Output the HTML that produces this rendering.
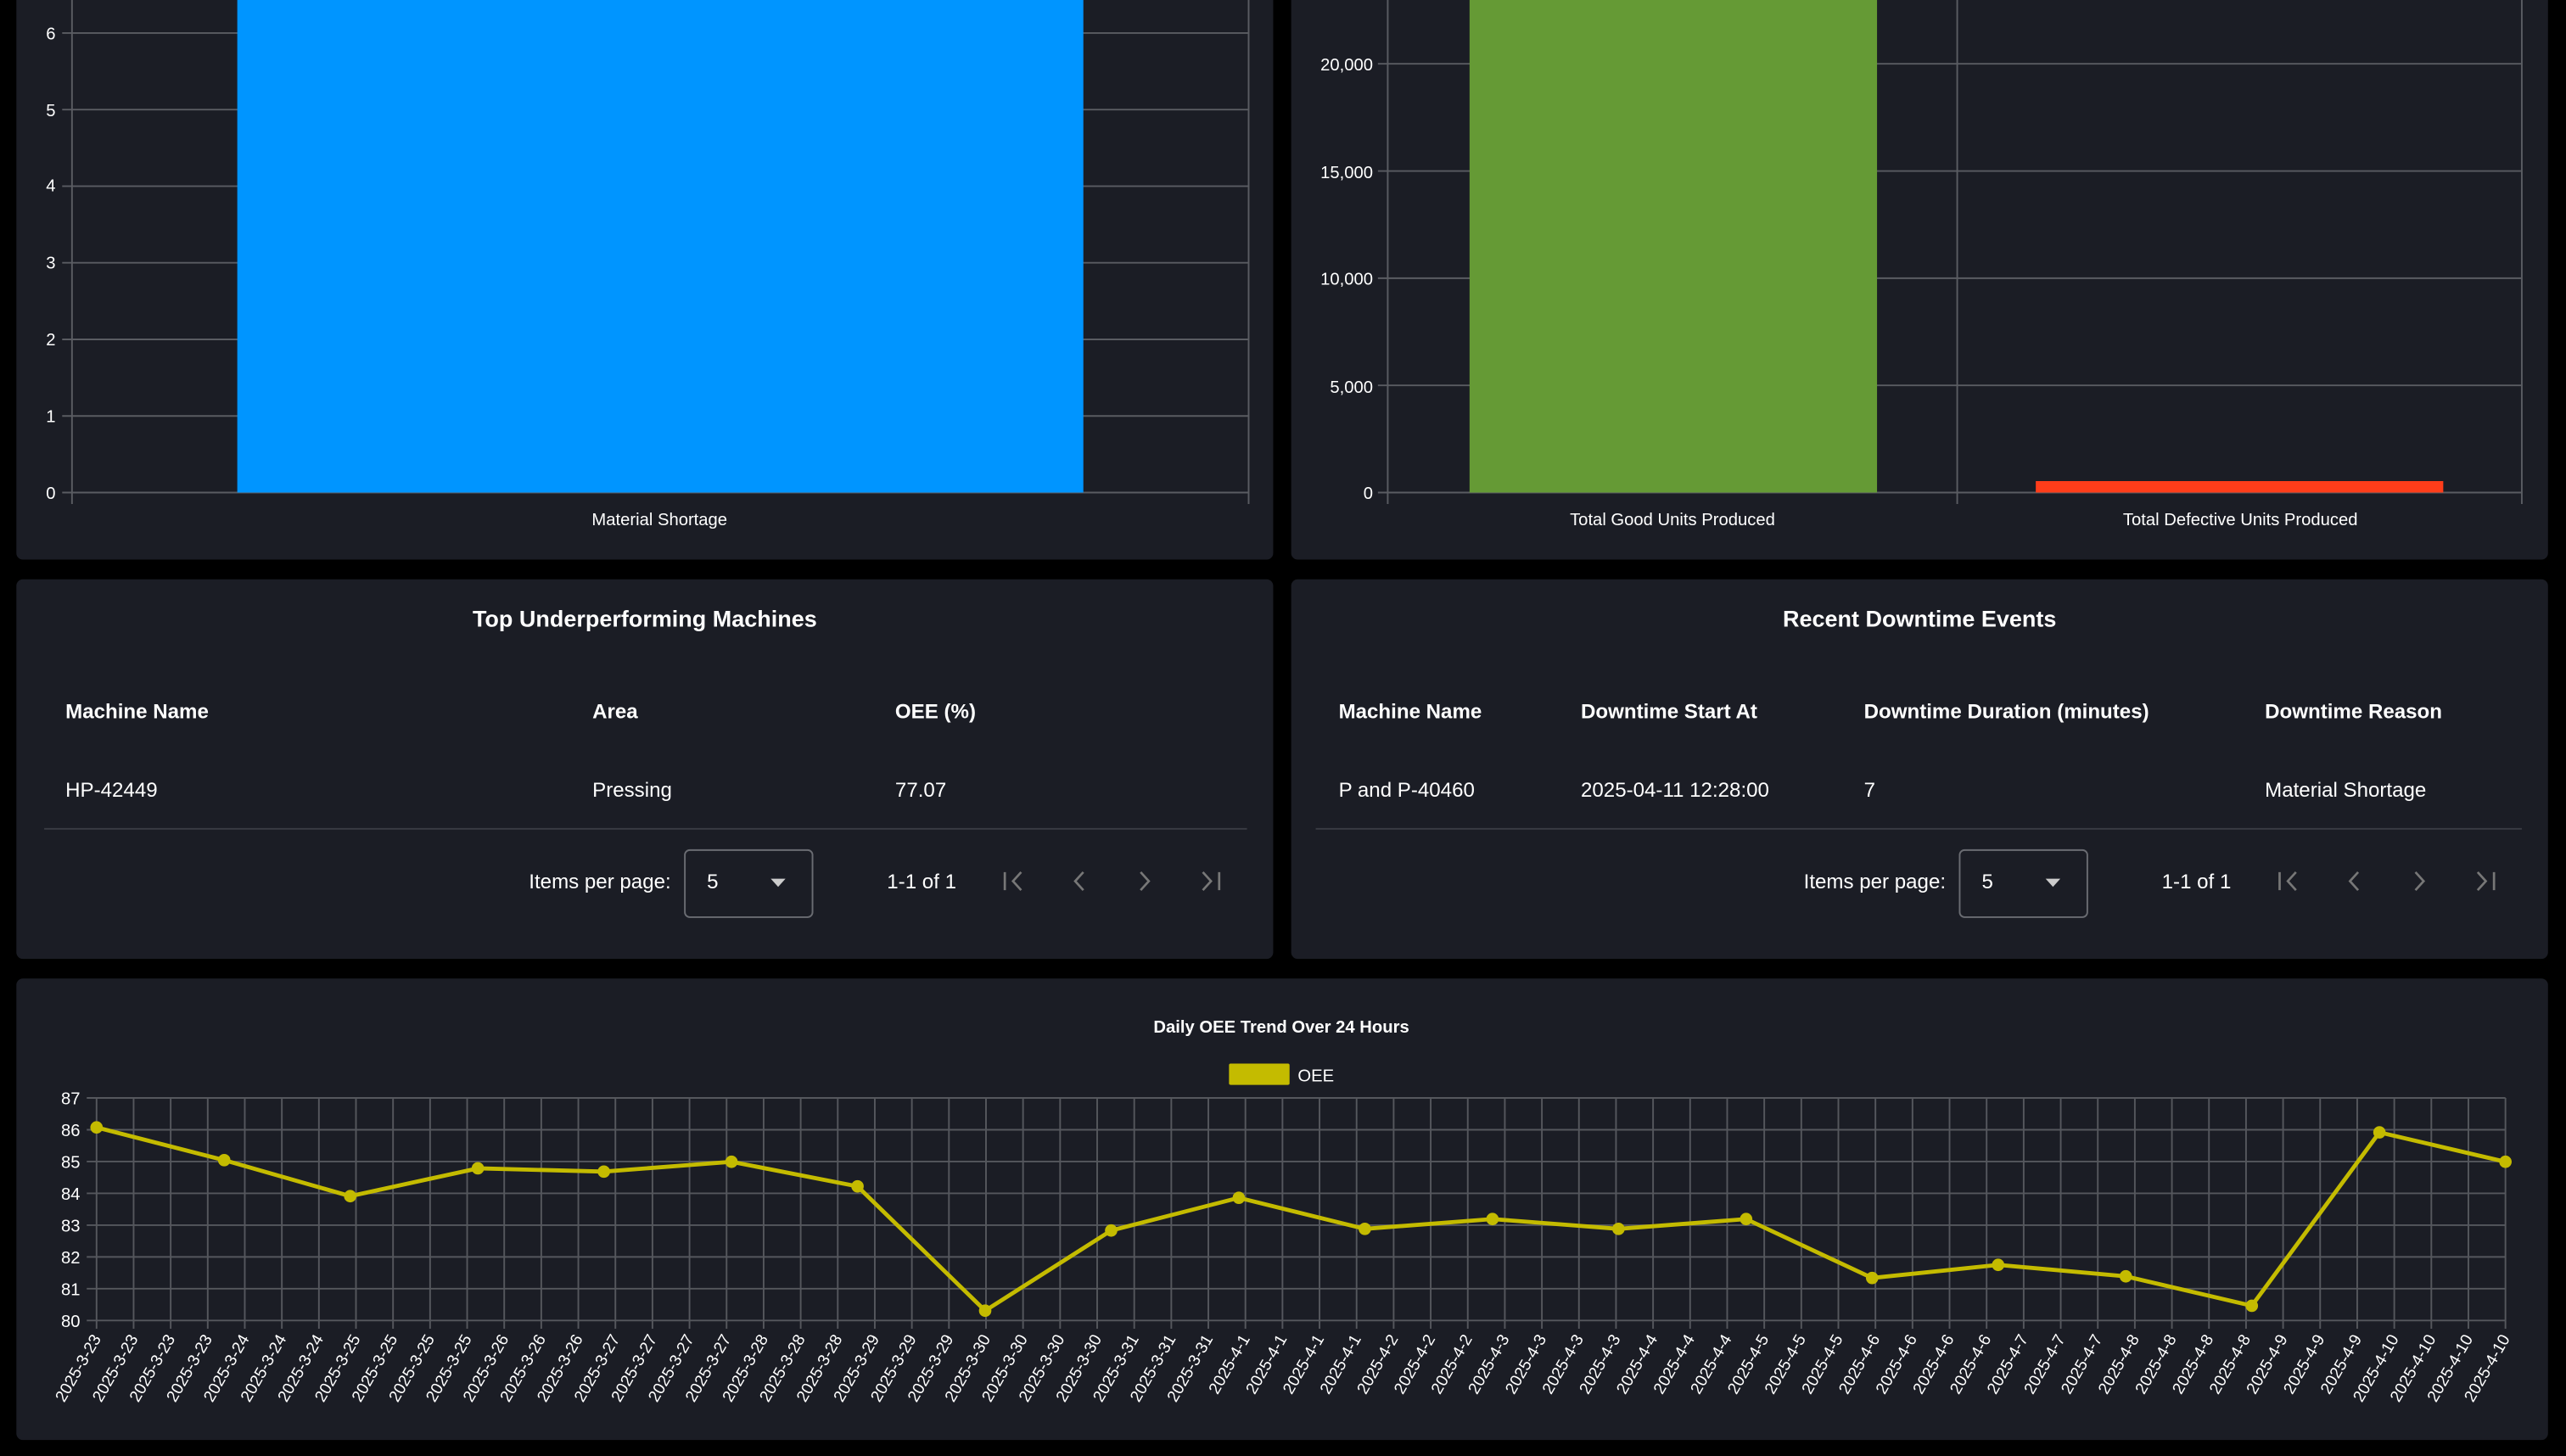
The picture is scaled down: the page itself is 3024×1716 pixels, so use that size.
<!DOCTYPE html>
<html><head><meta charset="utf-8"><style>
html,body{margin:0;padding:0;background:#000;width:3024px;height:1716px;overflow:hidden}
svg{display:block}
text{font-family:"Liberation Sans",sans-serif;fill:#fff}
</style></head><body>
<svg width="3024" height="1716" viewBox="0 0 1568 889.8" preserveAspectRatio="none" xmlns="http://www.w3.org/2000/svg">
<rect width="1568" height="890" fill="#000"/>
<!-- panels -->
<rect x="10" y="-10" width="768" height="352" rx="4" fill="#1b1d25"/>
<rect x="789" y="-10" width="768" height="352" rx="4" fill="#1b1d25"/>
<rect x="10" y="354" width="768" height="232" rx="4" fill="#1b1d25"/>
<rect x="789" y="354" width="768" height="232" rx="4" fill="#1b1d25"/>
<rect x="10" y="598" width="1547" height="282" rx="4" fill="#1b1d25"/>

<!-- chart 1 -->
<g stroke="#5a5c62" stroke-width="1">
<line x1="38" y1="301" x2="763" y2="301"/><line x1="38" y1="254.2" x2="763" y2="254.2"/>
<line x1="38" y1="207.4" x2="763" y2="207.4"/><line x1="38" y1="160.6" x2="763" y2="160.6"/>
<line x1="38" y1="113.8" x2="763" y2="113.8"/><line x1="38" y1="67" x2="763" y2="67"/>
<line x1="38" y1="20.2" x2="763" y2="20.2"/>
<line x1="44" y1="0" x2="44" y2="308"/><line x1="763" y1="0" x2="763" y2="308"/>
</g>
<rect x="145" y="-5" width="517" height="306" fill="#0095ff"/>
<g font-size="10.5" text-anchor="end">
<text x="34" y="305">0</text><text x="34" y="258">1</text><text x="34" y="211">2</text>
<text x="34" y="164">3</text><text x="34" y="117">4</text><text x="34" y="71">5</text><text x="34" y="24">6</text>
</g>
<text x="403" y="321" font-size="10.5" text-anchor="middle">Material Shortage</text>

<!-- chart 2 -->
<g stroke="#5a5c62" stroke-width="1">
<line x1="842" y1="301" x2="1541" y2="301"/><line x1="842" y1="235.5" x2="1541" y2="235.5"/>
<line x1="842" y1="170" x2="1541" y2="170"/><line x1="842" y1="104.5" x2="1541" y2="104.5"/>
<line x1="842" y1="39" x2="1541" y2="39"/>
<line x1="848" y1="0" x2="848" y2="308"/><line x1="1196" y1="0" x2="1196" y2="308"/><line x1="1541" y1="0" x2="1541" y2="308"/>
</g>
<rect x="898" y="-5" width="249" height="306" fill="#659a35"/>
<rect x="1244" y="294" width="249" height="7" fill="#ff3d1a"/>
<g font-size="10.5" text-anchor="end">
<text x="839" y="305">0</text><text x="839" y="240">5,000</text><text x="839" y="174">10,000</text>
<text x="839" y="109">15,000</text><text x="839" y="43">20,000</text>
</g>
<text x="1022" y="321" font-size="10.5" text-anchor="middle">Total Good Units Produced</text>
<text x="1369" y="321" font-size="10.5" text-anchor="middle">Total Defective Units Produced</text>

<!-- table 1 -->
<text x="394" y="383" font-size="14" font-weight="bold" text-anchor="middle">Top Underperforming Machines</text>
<g font-size="12.5" font-weight="bold">
<text x="40" y="439">Machine Name</text><text x="362" y="439">Area</text><text x="547" y="439">OEE (%)</text>
</g>
<g font-size="12.5">
<text x="40" y="487">HP-42449</text><text x="362" y="487">Pressing</text><text x="547" y="487">77.07</text>
</g>
<line x1="27" y1="506.5" x2="762" y2="506.5" stroke="#3a3c44"/>
<g font-size="12.5">
<text x="410" y="543" text-anchor="end">Items per page:</text>
<rect x="418.5" y="519.5" width="78" height="41" rx="3" fill="none" stroke="#6a6c72"/>
<text x="432" y="543">5</text>
<polygon points="471,537 480,537 475.5,542" fill="#ccc"/>
<text x="542" y="543">1-1 of 1</text>
</g>
<g stroke="#777" stroke-width="1.4" fill="none">
<path d="M614,533v11M624,533l-5,5.5l5,5.5"/><path d="M662,533l-5,5.5l5,5.5"/>
<path d="M697,533l5,5.5l-5,5.5"/><path d="M735,533l5,5.5l-5,5.5M745,533v11"/>
</g>

<!-- table 2 -->
<text x="1173" y="383" font-size="14" font-weight="bold" text-anchor="middle">Recent Downtime Events</text>
<g font-size="12.5" font-weight="bold">
<text x="818" y="439">Machine Name</text><text x="966" y="439">Downtime Start At</text>
<text x="1139" y="439">Downtime Duration (minutes)</text><text x="1384" y="439">Downtime Reason</text>
</g>
<g font-size="12.5">
<text x="818" y="487">P and P-40460</text><text x="966" y="487">2025-04-11 12:28:00</text>
<text x="1139" y="487">7</text><text x="1384" y="487">Material Shortage</text>
</g>
<line x1="804" y1="506.5" x2="1541" y2="506.5" stroke="#3a3c44"/>
<g font-size="12.5">
<text x="1189" y="543" text-anchor="end">Items per page:</text>
<rect x="1197.5" y="519.5" width="78" height="41" rx="3" fill="none" stroke="#6a6c72"/>
<text x="1211" y="543">5</text>
<polygon points="1250,537 1259,537 1254.5,542" fill="#ccc"/>
<text x="1321" y="543">1-1 of 1</text>
</g>
<g stroke="#777" stroke-width="1.4" fill="none">
<path d="M1393,533v11M1403,533l-5,5.5l5,5.5"/><path d="M1441,533l-5,5.5l5,5.5"/>
<path d="M1476,533l5,5.5l-5,5.5"/><path d="M1514,533l5,5.5l-5,5.5M1524,533v11"/>
</g>

<!-- line chart -->
<text x="783" y="631" font-size="10.5" font-weight="bold" text-anchor="middle">Daily OEE Trend Over 24 Hours</text>
<rect x="751" y="650" width="37" height="13" rx="1" fill="#c4bb00"/>
<text x="793" y="661" font-size="10.5">OEE</text>
<g id="grid" stroke="#55575d" stroke-width="1"></g>
<g id="ylab" font-size="10.5" text-anchor="end"></g>
<g id="xlab" font-size="10"></g>
<polyline id="ln" fill="none" stroke="#c4bb00" stroke-width="2.5" stroke-linejoin="round"/>
<g id="pts" fill="#c4bb00"></g>
</svg>
<script>
var NS="http://www.w3.org/2000/svg";
function el(t,a,p){var e=document.createElementNS(NS,t);for(var k in a)e.setAttribute(k,a[k]);p.appendChild(e);return e;}
var grid=document.getElementById("grid"),yl=document.getElementById("ylab"),xl=document.getElementById("xlab");
for(var v=80;v<=87;v++){var y=807-(v-80)*19.43;el("line",{x1:53,y1:y,x2:1531,y2:y},grid);var t=el("text",{x:49,y:y+4},yl);t.textContent=v;}
var days=[["3-23",4],["3-24",3],["3-25",4],["3-26",3],["3-27",4],["3-28",3],["3-29",3],["3-30",4],["3-31",3],["4-1",4],["4-2",3],["4-3",4],["4-4",3],["4-5",3],["4-6",4],["4-7",3],["4-8",4],["4-9",3],["4-10",4]];
var labs=[];days.forEach(function(d){for(var i=0;i<d[1];i++)labs.push("2025-"+d[0]);});
var n=labs.length,sp=(1531-59)/(n-1);
labs.forEach(function(l,i){var x=59+i*sp;el("line",{x1:x,y1:671,x2:x,y2:812},grid);
var t=el("text",{x:x+3,y:818,"text-anchor":"end",transform:"rotate(-60 "+(x+3)+" 818)"},xl);t.textContent=l;});
var P=[[59,689],[137,709],[214,731],[292,714],[369,716],[447,710],[524,725],[602,801],[679,752],[757,732],[834,751],[912,745],[989,751],[1067,745],[1144,781],[1221,773],[1299,780],[1376,798],[1454,692],[1531,710]];
document.getElementById("ln").setAttribute("points",P.map(function(p){return p.join(",")}).join(" "));
var pts=document.getElementById("pts");P.forEach(function(p){el("circle",{cx:p[0],cy:p[1],r:3.8},pts);});
</script>
</body></html>
